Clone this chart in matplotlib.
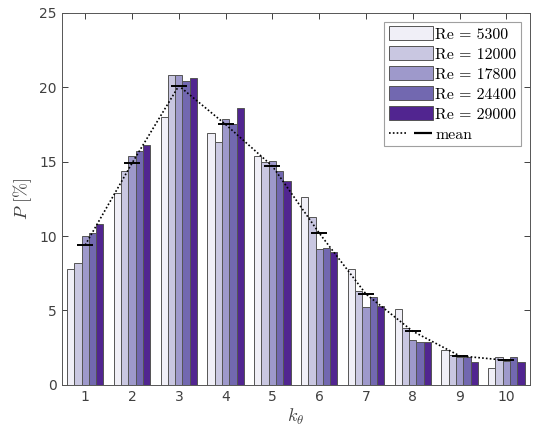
import numpy as np
import matplotlib
matplotlib.use("Agg")
import matplotlib.pyplot as plt
from matplotlib.lines import Line2D
from matplotlib.legend_handler import HandlerTuple

plt.rcParams['mathtext.fontset'] = 'cm'
plt.rcParams['font.family'] = ['DejaVu Sans']

k = np.arange(1, 11)
re_labels = ["5300", "12000", "17800", "24400", "29000"]
colors = ["#f0eff7", "#c9c7e1", "#9e99cb", "#7268b0", "#512590"]

p_5300 = [7.8, 12.9, 18.0, 16.9, 15.4, 12.6, 7.8, 5.1, 2.35, 1.1]
p_12000 = [8.2, 14.4, 20.8, 16.3, 15.0, 11.3, 6.3, 3.85, 2.0, 1.9]
p_17800 = [10.0, 15.4, 20.8, 17.9, 15.05, 9.1, 5.2, 3.0, 1.9, 1.6]
p_24400 = [10.2, 15.7, 20.4, 17.5, 14.4, 9.2, 5.9, 2.9, 1.9, 1.9]
p_29000 = [10.8, 16.1, 20.6, 18.6, 13.7, 8.9, 5.3, 2.85, 1.55, 1.55]
p_mean = [9.4, 14.9, 20.1, 17.5, 14.7, 10.2, 6.1, 3.6, 1.95, 1.65]

series = [p_5300, p_12000, p_17800, p_24400, p_29000]

fig = plt.figure(figsize=(5.33, 4.3), dpi=100)
ax = fig.add_axes([0.116, 0.105, 0.878, 0.865])

n = len(series)
group_w = 0.78
bw = group_w / n
handles = []
for i, vals in enumerate(series):
    off = -group_w / 2 + bw * (i + 0.5)
    b = ax.bar(k + off, vals, width=bw, color=colors[i], edgecolor='#555555',
               linewidth=0.7, zorder=2)
    handles.append(b)

# mean: dotted line plus short horizontal markers
ax.plot(k, p_mean, color='black', linestyle=(0, (1, 1.3)), linewidth=1.2, zorder=3)
ax.hlines(p_mean, k - 0.17, k + 0.17, color='black', linewidth=1.4, zorder=4)

labels = ['Re = %s' % r for r in re_labels] + ['mean']
mean_line = Line2D([], [], color='black', linestyle=(0, (1, 1.3)), linewidth=1.2)
mean_tick = Line2D([], [], color='black', marker='_', markersize=13,
                   markeredgewidth=1.6, linestyle='None')

leg = ax.legend(handles + [(mean_line, mean_tick)], labels, loc='upper right',
                prop={'family': 'cmr10', 'size': 11.4},
                handler_map={tuple: HandlerTuple(ndivide=None)},
                frameon=True, fancybox=False, edgecolor='#888888',
                handlelength=2.8, handleheight=0.95, labelspacing=0.3,
                handletextpad=0.15, borderpad=0.3, borderaxespad=0.55)
leg.get_frame().set_linewidth(0.8)

ax.set_xlim(0.5, 10.5)
ax.set_ylim(0, 25)
ax.set_xticks(k)
ax.set_yticks([0, 5, 10, 15, 20, 25])
ax.tick_params(direction='in', top=True, right=True, labelsize=10,
               colors='#404040', length=4, width=0.7)
for s in ax.spines.values():
    s.set_color('#555555')
    s.set_linewidth(0.7)

ax.set_xlabel(r'$k_\theta$', fontsize=13, color='#404040', labelpad=2)
ax.set_ylabel(r'$P$ $[\%]$', fontsize=13, color='#404040', labelpad=4)

fig.savefig("out.png", dpi=100)
